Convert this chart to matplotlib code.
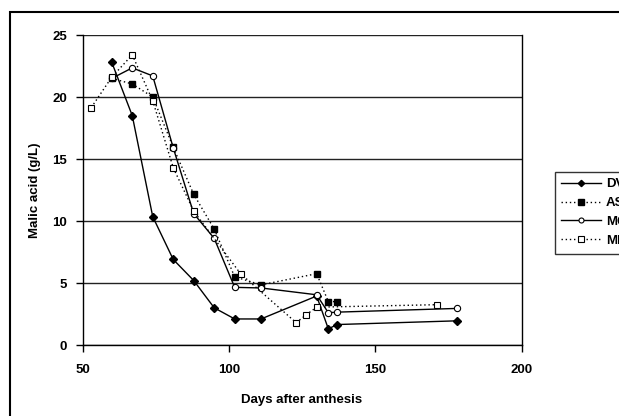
import matplotlib
matplotlib.use("Agg")
import matplotlib.pyplot as plt
from matplotlib.patches import Rectangle

plt.rcParams['font.family'] = ['Liberation Sans', 'DejaVu Sans']

dv_x = [60, 67, 74, 81, 88, 95, 102, 111, 130, 134, 137, 178]
dv_y = [22.8, 18.5, 10.35, 6.9, 5.2, 3.0, 2.1, 2.1, 3.95, 1.3, 1.65, 1.95]
as_x = [60, 67, 74, 81, 88, 95, 102, 111, 130, 134, 137]
as_y = [21.5, 21.05, 20.0, 15.95, 12.15, 9.35, 5.5, 4.85, 5.75, 3.5, 3.5]
mc_x = [60, 67, 74, 81, 88, 95, 102, 111, 130, 134, 137, 178]
mc_y = [21.5, 22.35, 21.7, 15.9, 10.6, 8.6, 4.65, 4.6, 4.05, 2.6, 2.65, 2.95]
mb_x = [53, 60, 67, 74, 81, 88, 104, 123, 126.5, 130, 171]
mb_y = [19.15, 21.6, 23.4, 19.7, 14.3, 10.8, 5.75, 1.8, 2.45, 3.05, 3.25]

x_ticks = [50, 100, 150, 200]
y_ticks = [0, 5, 10, 15, 20, 25]

fig = plt.figure(figsize=(6.19, 4.16), dpi=100)
ax = fig.add_axes([82.5/619, 1-345/416, (521.5-82.5)/619, (345-35)/416])

dot = (0, (1, 2))
ax.plot(dv_x, dv_y, color='black', lw=1, marker='D', ms=4, mfc='black', mec='black', label='DV', zorder=3)
ax.plot(as_x, as_y, color='black', lw=1, ls=dot, marker='s', ms=5, mfc='black', mec='black', label='AS', zorder=3)
ax.plot(mc_x, mc_y, color='black', lw=1, marker='o', ms=4.5, mfc='white', mec='black', mew=0.8, label='MC', zorder=3)
ax.plot(mb_x, mb_y, color='black', lw=1, ls=dot, marker='s', ms=5, mfc='white', mec='black', mew=0.8, label='MB', zorder=3)

ax.set_xlim(50, 200)
ax.set_ylim(0, 25)
ax.set_xticks(x_ticks)
ax.set_yticks(y_ticks)
ax.set_xticklabels([str(v) for v in x_ticks], fontweight='bold', fontsize=9.5)
ax.set_yticklabels([str(v) for v in y_ticks], fontweight='bold', fontsize=9.5)
ax.tick_params(direction='out', length=5, width=1, color='black')
ax.tick_params(axis='x', pad=9)
ax.tick_params(axis='y', pad=6)
ax.yaxis.grid(True, color='#222222', lw=1)
ax.set_axisbelow(True)
for s in ['left', 'bottom', 'right']:
    ax.spines[s].set_color('black')
    ax.spines[s].set_linewidth(1)
ax.spines['top'].set_visible(False)

ax.set_xlabel('Days after anthesis', fontweight='bold', fontsize=9.5, labelpad=13)
ax.set_ylabel('Malic acid (g/L)', fontweight='bold', fontsize=9.5, labelpad=8)

leg = fig.legend(loc='upper left', bbox_to_anchor=(548/619, 1-165/416), frameon=True,
                 fancybox=False, edgecolor='black', prop={'weight': 'bold', 'size': 9.5},
                 handlelength=3.0, borderpad=0.5, labelspacing=0.5, handletextpad=0.4,
                 markerscale=0.8)
leg.get_frame().set_linewidth(1)

fig.patches.append(Rectangle((10/619, -0.1), 1.2, 1-12/416+0.1, transform=fig.transFigure,
                             fill=False, edgecolor='black', lw=1.5, clip_on=False))

fig.savefig('out.png', dpi=100)
